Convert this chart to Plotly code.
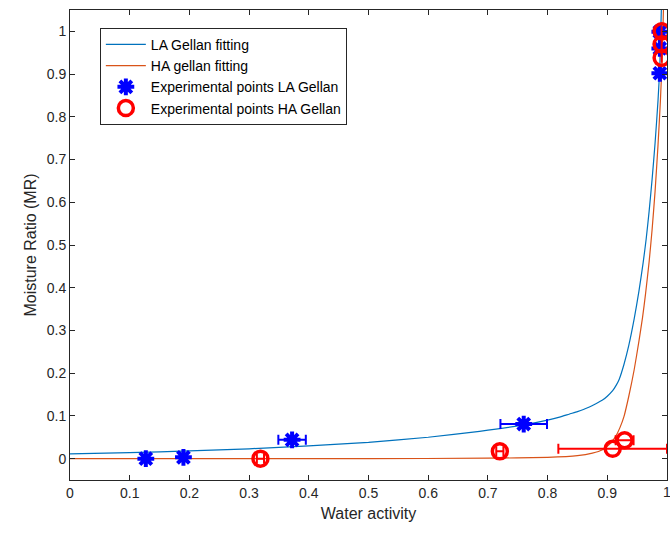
import plotly.graph_objects as go

# Fitting curves
la_fit_x = [0.0, 0.1, 0.2, 0.3, 0.4, 0.5, 0.6, 0.686, 0.76, 0.8, 0.82, 0.836, 0.85, 0.86, 0.87,
            0.88, 0.892, 0.9, 0.909, 0.915, 0.92, 0.928, 0.936, 0.945, 0.953, 0.96, 0.965, 0.97,
            0.975, 0.98, 0.985, 0.988, 0.9905]
la_fit_y = [0.011, 0.014, 0.018, 0.023, 0.030, 0.038, 0.050, 0.064, 0.079, 0.090, 0.097, 0.104,
            0.110, 0.115, 0.121, 0.128, 0.137, 0.146, 0.159, 0.172, 0.186, 0.221, 0.265, 0.327,
            0.392, 0.458, 0.513, 0.578, 0.653, 0.738, 0.839, 0.920, 1.05]
ha_fit_x = [0.0, 0.5, 0.7, 0.8, 0.85, 0.875, 0.892, 0.905, 0.914, 0.921, 0.928, 0.936, 0.945,
            0.953, 0.959, 0.964, 0.970, 0.975, 0.980, 0.985, 0.989, 0.992, 0.994]
ha_fit_y = [0.0, 0.0, 0.001, 0.003, 0.007, 0.013, 0.021, 0.035, 0.052, 0.072, 0.099, 0.146,
            0.208, 0.275, 0.330, 0.385, 0.460, 0.535, 0.625, 0.735, 0.839, 0.940, 1.05]

# Experimental points
la_x = [0.127, 0.19, 0.372, 0.760, 0.988, 0.988, 0.988]
la_y = [0.0, 0.003, 0.044, 0.081, 0.902, 0.960, 0.999]
la_xerr = [0.0, 0.0, 0.023, 0.039, 0.0, 0.0, 0.0]

ha_x = [0.319, 0.720, 0.909, 0.929, 0.991, 0.991, 0.991]
ha_y = [0.0, 0.017, 0.023, 0.043, 0.938, 0.970, 1.0]
ha_xerr = [0.006, 0.006, 0.091, 0.015, 0.0, 0.0, 0.0]

x_ticks = [0, 0.1, 0.2, 0.3, 0.4, 0.5, 0.6, 0.7, 0.8, 0.9, 1]
x_tick_labels = ["0", "0.1", "0.2", "0.3", "0.4", "0.5", "0.6", "0.7", "0.8", "0.9", "1"]
y_ticks = [0, 0.1, 0.2, 0.3, 0.4, 0.5, 0.6, 0.7, 0.8, 0.9, 1]

FONT = "Liberation Sans, Arial"

fig = go.Figure()
fig.add_trace(go.Scatter(x=la_fit_x, y=la_fit_y, mode="lines", name="LA Gellan fitting",
                         line=dict(color="#0072BD", width=1.2, shape="spline", smoothing=0.5)))
fig.add_trace(go.Scatter(x=ha_fit_x, y=ha_fit_y, mode="lines", name="HA gellan fitting",
                         line=dict(color="#D95319", width=1.2, shape="spline", smoothing=0.5)))
fig.add_trace(go.Scatter(x=la_x, y=la_y, mode="markers", name="Experimental points LA Gellan",
                         marker=dict(symbol="asterisk-open", size=14, color="#0000FF",
                                     line=dict(color="#0000FF", width=4)),
                         error_x=dict(type="data", array=la_xerr, color="#0000FF",
                                      thickness=2, width=5)))
fig.add_trace(go.Scatter(x=ha_x, y=ha_y, mode="markers", name="Experimental points HA Gellan",
                         marker=dict(symbol="circle-open", size=15, color="#FF0000",
                                     line=dict(color="#FF0000", width=3.5)),
                         error_x=dict(type="data", array=ha_xerr, color="#FF0000",
                                      thickness=2, width=5)))

axis_common = dict(showgrid=False, zeroline=False, showline=True, linecolor="#262626",
                   linewidth=1, mirror="ticks", ticks="inside", ticklen=5, tickcolor="#262626",
                   ticklabeloverflow="allow",
                   tickfont=dict(family=FONT, size=14, color="#262626"))

# last x tick label is written as an annotation so that it is not dropped at the page edge
fig.update_xaxes(range=[0, 1], tickvals=x_ticks, ticktext=x_tick_labels[:-1] + [""],
                 title=dict(text="Water activity", font=dict(family=FONT, size=16, color="#262626"),
                            standoff=8),
                 **axis_common)
fig.update_yaxes(range=[-0.05, 1.05], tickvals=y_ticks, ticktext=[f"{v:g}" for v in y_ticks],
                 title=dict(text="Moisture Ratio (MR)", font=dict(family=FONT, size=16, color="#262626"),
                            standoff=6),
                 **axis_common)

fig.add_annotation(x=x_ticks[-1], y=0, xref="x", yref="paper", text=x_tick_labels[-1],
                   showarrow=False, xanchor="center", yanchor="top", yshift=-2,
                   font=dict(family=FONT, size=14, color="#262626"))

fig.update_layout(
    width=670, height=536,
    margin=dict(l=70, r=3, t=10, b=56),
    plot_bgcolor="white", paper_bgcolor="white",
    legend=dict(x=0.05, y=0.962, xanchor="left", yanchor="top",
                bordercolor="#262626", borderwidth=1, bgcolor="white",
                font=dict(family=FONT, size=14, color="#000000"),
                tracegroupgap=0, itemwidth=40),
    showlegend=True,
)

fig.write_html("out.html", config={"displayModeBar": False},
               post_script="document.body.style.margin='0';")
